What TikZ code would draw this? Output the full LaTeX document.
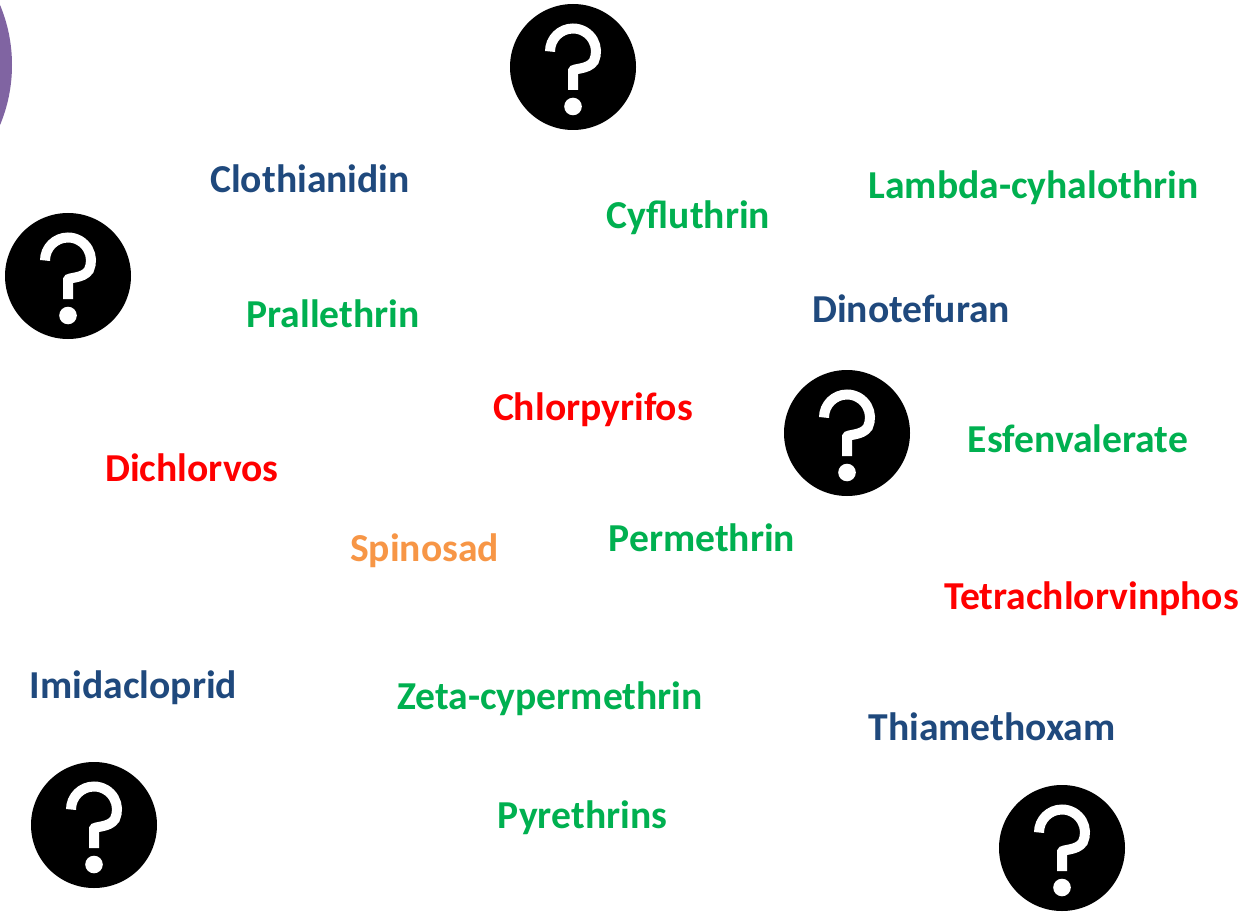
\documentclass[tikz,border=0pt]{standalone}
\usepackage{fontspec}
\setmainfont{Carlito}[BoldFont={Carlito Bold}]
\definecolor{pgreen}{HTML}{00B050}
\definecolor{pred}{HTML}{FF0000}
\definecolor{pblue}{HTML}{1F497D}
\definecolor{porange}{HTML}{F79646}
\definecolor{ppurple}{HTML}{8064A2}
\tikzset{
  label/.style={font=\fontsize{39.6}{44}\selectfont\bfseries, anchor=base, inner sep=0pt},
  gr/.style={label, text=pgreen},
  rd/.style={label, text=pred},
  bl/.style={label, text=pblue},
  og/.style={label, text=porange},
  qdisc/.style={circle, fill=black, draw=none, minimum size=126pt, inner sep=0pt},
  pics/qmark/.style={code={
    \draw[white, line width=10pt, line cap=butt, line join=miter]
      (-23,-15.5) arc[start angle=180, end angle=385, x radius=23, y radius=23]
      .. controls (15,3) and (0,1) .. (0,4) -- (0,23);
    \fill[white] (0,39.5) circle[radius=8.8];
  }}
}
\begin{document}
\begin{tikzpicture}[x=1pt,y=-1pt]
\useasboundingbox (0,0) rectangle (1240,912);
\fill[white] (0,0) rectangle (1240,912);
\begin{scope}
\clip (0,0) rectangle (1240,912);
\node[circle, fill=ppurple, minimum size=312pt, inner sep=0pt] (sun) at (-144,65) {};
\end{scope}
\foreach \n/\x/\y in {q1/573/67, q2/68/276, q3/847/433, q4/94/825, q5/1062/848}{
  \node[qdisc] (\n) at (\x,\y) {};
  \pic at (\n.center) {qmark};
}
\node[bl] (clo) at (310,193) {Clothianidin};
\node[gr] (cyf) at (688.5,229) {Cyfluthrin};
\node[gr] (lam) at (1033.5,199) {Lambda-cyhalothrin};
\node[bl] (din) at (911,322) {Dinotefuran};
\node[gr] (pra) at (333,327) {Prallethrin};
\node[rd] (chl) at (593,420) {Chlorpyrifos};
\node[gr] (esf) at (1078,452) {Esfenvalerate};
\node[rd] (dic) at (192,481) {Dichlorvos};
\node[og] (spi) at (424.5,561) {Spinosad};
\node[gr] (per) at (702,551) {Permethrin};
\node[rd] (tet) at (1091.5,609) {Tetrachlorvinphos};
\node[bl] (imi) at (133.5,698) {Imidacloprid};
\node[gr] (zet) at (550,709) {Zeta-cypermethrin};
\node[bl] (thi) at (992,740) {Thiamethoxam};
\node[gr] (pyr) at (582.5,828) {Pyrethrins};
\end{tikzpicture}
\end{document}
